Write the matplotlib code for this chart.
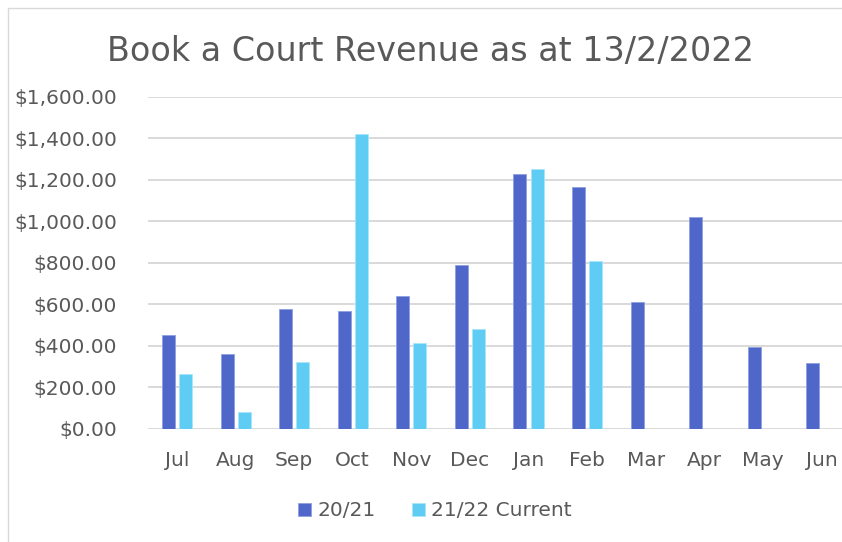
import matplotlib
matplotlib.use("Agg")
import matplotlib.pyplot as plt
import numpy as np
from matplotlib.ticker import FuncFormatter
from matplotlib.patches import Rectangle

months = ["Jul", "Aug", "Sep", "Oct", "Nov", "Dec", "Jan", "Feb", "Mar", "Apr", "May", "Jun"]
rev_2021 = [450, 357, 576, 568, 637, 790, 1225, 1163, 608, 1019, 392, 318]
rev_2122 = [265, 79, 323, 1421, 410, 479, 1251, 806, 0, 0, 0, 0]
series_names = ["20/21", "21/22 Current"]
title = "Book a Court Revenue as at 13/2/2022"

c1 = "#4E67C8"
c2 = "#5ECCF3"
txt = "#595959"

fig = plt.figure(figsize=(8.42, 5.42), dpi=100)
ax = fig.add_axes([147.7/842, 1 - 428.5/542, 703/842, (428.5-96.7)/542])

x = np.arange(len(months))
w = 0.222
off = 0.146
ax.bar(x - off, rev_2021, w, color=c1, edgecolor="#8fa0e0", linewidth=0.6, label=series_names[0], zorder=3)
vals2 = [v if v > 0 else np.nan for v in rev_2122]
ax.bar(x + off, vals2, w, color=c2, edgecolor="#a8e6fb", linewidth=0.6, label=series_names[1], zorder=3)

ax.set_xlim(-0.5, len(months) - 0.5)
ax.set_ylim(0, 1600)
ax.set_yticks(np.arange(0, 1601, 200))
ax.yaxis.set_major_formatter(FuncFormatter(lambda v, p: f"${v:,.2f}"))
ax.set_xticks(x)
ax.set_xticklabels(months)
ax.grid(axis="y", color="#d9d9d9", linewidth=1.4, zorder=0)
for s in ax.spines.values():
    s.set_visible(False)
ax.tick_params(axis="both", length=0, labelsize=14.5, colors=txt)
ax.tick_params(axis="y", pad=22)
ax.tick_params(axis="x", pad=16)

fig.text(430/842, 1 - 52/542, title, ha="center", va="center", fontsize=24, color=txt)

leg = fig.legend(loc="center", bbox_to_anchor=(435/842, 1 - 511/542), ncol=2, frameon=False,
                 fontsize=14.5, handlelength=0.65, handleheight=0.65, handletextpad=0.3, columnspacing=1.8)
for t in leg.get_texts():
    t.set_color(txt)

fig.patches.append(Rectangle((8/842, -0.01), 1.0, 1 - 8/542 + 0.01, transform=fig.transFigure,
                             fill=False, edgecolor="#d9d9d9", linewidth=1.0))

fig.savefig("out.png", dpi=100)
